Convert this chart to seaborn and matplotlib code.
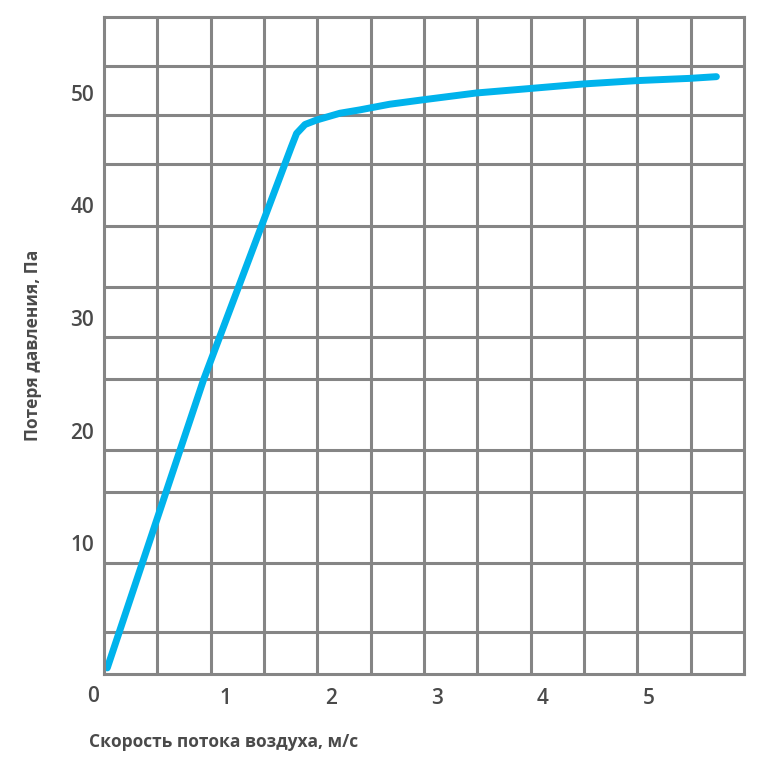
"""
Pressure loss vs air flow velocity chart.
"""

import numpy as np
import pandas as pd
import matplotlib
matplotlib.use("Agg")
import matplotlib.pyplot as plt
import seaborn as sns

# curve (x in m/s, y in Pa)
velocity = [-0.12, 0.79, 1.62, 1.67, 1.75, 1.86, 2.08, 2.27, 2.55,
            2.87, 3.37, 3.88, 4.38, 4.89, 5.39, 5.64]
pressure = [-1.1, 24.5, 45.2, 46.4, 47.2, 47.6, 48.2, 48.5, 49.0,
            49.4, 50.0, 50.4, 50.8, 51.1, 51.3, 51.45]

x_ticks = [1, 2, 3, 4, 5]
y_ticks = [10, 20, 30, 40, 50]

x_label = "Скорость потока воздуха, м/с"
y_label = "Потеря давления, Па"

# axis range and the (uneven) grid lines of the original
x_range = (-0.151, 5.901)
y_range = (-1.64, 56.78)
grid_x = np.linspace(x_range[0], x_range[1], 13)[1:-1]
grid_y = [2.06, 8.25, 14.51, 18.27, 24.55, 28.34, 32.73,
          38.18, 43.69, 48.04, 52.43]

GRID = "#858585"
TEXT = "#4a4a4a"
LINE = "#00b3ec"


def main() -> None:
    sns.set_style("white")
    plt.rcParams["font.family"] = ["Open Sans", "DejaVu Sans"]

    df = pd.DataFrame({"v": velocity, "p": pressure})

    fig = plt.figure(figsize=(7.83, 7.76), dpi=100)
    ax = fig.add_axes([104 / 783, 1 - 674 / 776, 640 / 783, 657.3 / 776])

    ax.set_xlim(*x_range)
    ax.set_ylim(*y_range)

    ax.set_xticks(x_ticks)
    ax.set_yticks(y_ticks)
    ax.set_xticks(grid_x, minor=True)
    ax.set_yticks(grid_y, minor=True)
    ax.grid(False, which="major")
    ax.grid(True, which="minor", color=GRID, linewidth=2.2)
    ax.set_axisbelow(True)
    ax.tick_params(which="both", length=0)
    ax.tick_params(axis="x", pad=10, labelsize=15, labelcolor=TEXT)
    ax.tick_params(axis="y", pad=7, labelsize=15, labelcolor=TEXT)
    for lab in ax.get_xticklabels() + ax.get_yticklabels():
        lab.set_fontweight("semibold")

    for spine in ax.spines.values():
        spine.set_color(GRID)
        spine.set_linewidth(2.2)

    sns.lineplot(data=df, x="v", y="p", ax=ax, color=LINE, linewidth=5,
                 estimator=None, sort=False, solid_capstyle="round",
                 solid_joinstyle="round")

    ax.set_xlabel(x_label, fontsize=12.5, fontweight="bold", color=TEXT)
    ax.set_ylabel(y_label, fontsize=12.5, fontweight="bold", color=TEXT)
    ax.xaxis.set_label_coords(0.1875, -0.0895)
    ax.yaxis.set_label_coords(-0.097, 0.5)

    fig.text(93 / 783, 1 - 697 / 776, "0", ha="center", va="center",
             fontsize=15, fontweight="semibold", color=TEXT)

    fig.savefig("out.png", dpi=100)


if __name__ == "__main__":
    main()
